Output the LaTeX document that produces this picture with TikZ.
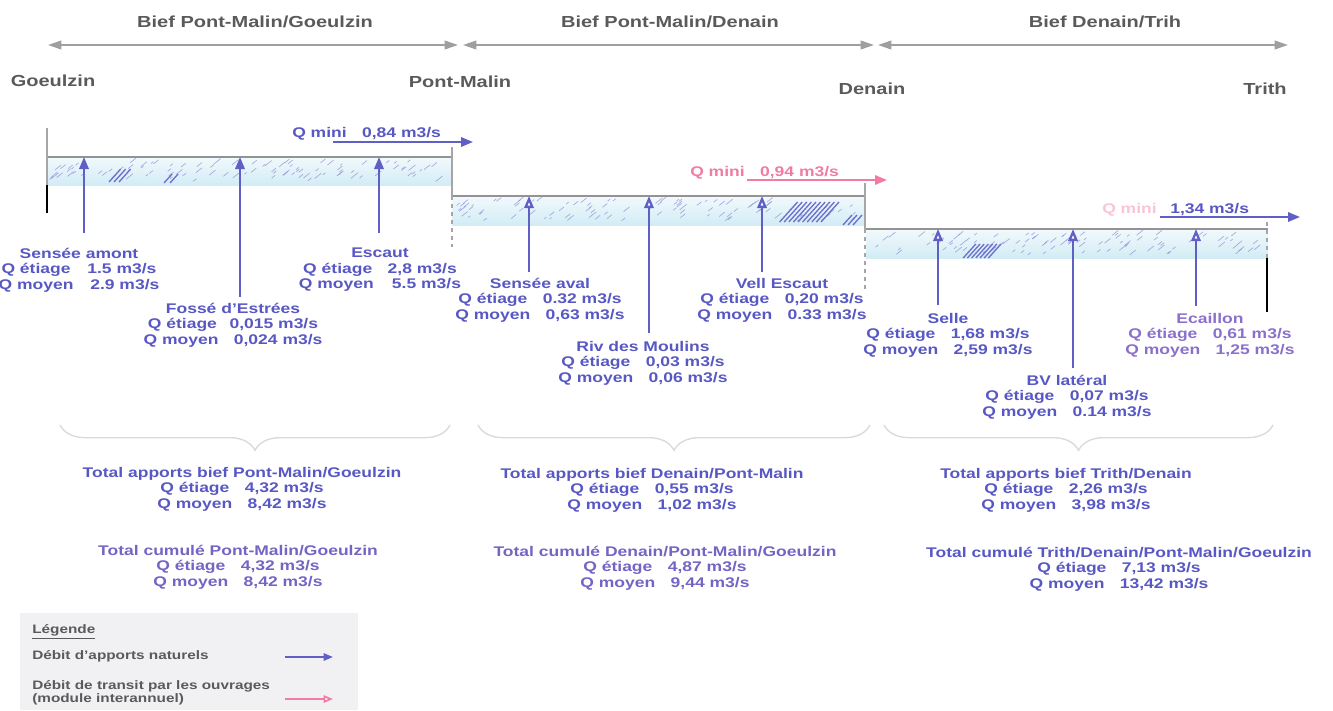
\documentclass[tikz,border=0pt]{standalone}
\usepackage{fontspec}
\setmainfont{Liberation Sans}[FakeStretch=1.25]
\usetikzlibrary{arrows.meta,decorations.pathreplacing}
\definecolor{flow}{HTML}{5F5FC6}
\definecolor{flowtxt}{HTML}{5858C4}
\definecolor{purp}{HTML}{7464C4}
\definecolor{ecail}{HTML}{8A70CC}
\definecolor{pinkq}{HTML}{F07CA6}
\definecolor{grayt}{HTML}{5A5A5A}
\definecolor{water}{HTML}{D2ECF5}
\definecolor{legbg}{HTML}{F1F1F4}
\begin{document}
\begin{tikzpicture}[x=0.75pt,y=-0.75pt,
  lab/.style={font=\fontsize{10.5}{11.6}\selectfont\bfseries, text=flowtxt, align=center, inner sep=0pt},
  place/.style={font=\fontsize{12}{14}\selectfont\bfseries, text=grayt, inner sep=0pt},
  leg/.style={font=\fontsize{9.2}{9.9}\selectfont\bfseries, text=grayt, align=left, inner sep=0pt},
  biefarrow/.style={draw=gray!75, line width=1.3pt, {Triangle[length=10pt,width=6.5pt]}-{Triangle[length=10pt,width=6.5pt]}},
  inflow/.style={draw=flow, line width=1.7pt, -{Triangle[length=9pt,width=7pt]}},
  inflowopen/.style={draw=flow, line width=1.7pt, -{Triangle[open,length=9pt,width=7pt,fill=white]}},
  qmini/.style={line width=1.7pt, -{Triangle[length=9pt,width=7pt]}},
  level/.style={draw=gray!85, line width=1.5pt},
  wall/.style={draw=gray!70, line width=1.2pt},
  hatch/.style={draw=flow!70, line width=0.5pt, opacity=0.75},
  darkhatch/.style={draw=flow!90, line width=1pt},
  brc/.style={draw=gray!30, line width=1pt, decorate, decoration={brace, amplitude=19pt}},
]
\useasboundingbox (0,0) rectangle (1333,710);

% ---------- top: biefs ----------
\coordinate (b1l) at (48,45);  \coordinate (b1r) at (458,45);
\coordinate (b2l) at (463,45); \coordinate (b2r) at (874,45);
\coordinate (b3l) at (878,45); \coordinate (b3r) at (1288,45);
\draw[biefarrow] (b1l) -- (b1r);
\draw[biefarrow] (b2l) -- (b2r);
\draw[biefarrow] (b3l) -- (b3r);
\node[place] (bief1) at (255,22) {Bief Pont-Malin/Goeulzin};
\node[place] (bief2) at (670,22) {Bief Pont-Malin/Denain};
\node[place] (bief3) at (1105,22) {Bief Denain/Trih};
\node[place] (goe) at (53,81) {Goeulzin};
\node[place] (pm) at (460,82) {Pont-Malin};
\node[place] (den) at (872,89) {Denain};
\node[place] (tri) at (1265,89) {Trith};

% ---------- water bands ----------
\shade[top color=water!30, bottom color=water] (47,157) rectangle (452,185);
\shade[top color=water!30, bottom color=water] (452,196) rectangle (865,225);
\shade[top color=water!30, bottom color=water] (866,229) rectangle (1268,258);

\pgfmathsetseed{11}
\foreach \xa/\xb/\ya in {49/448/158, 454/862/197, 868/1264/231}{
  \foreach \i in {1,...,95}{
    \pgfmathsetmacro{\hx}{\xa+rnd*(\xb-\xa-6)}
    \pgfmathsetmacro{\hy}{\ya+4+rnd*20}
    \pgfmathsetmacro{\hl}{2+rnd*5}
    \draw[hatch] (\hx,\hy) -- ++(\hl,-0.8*\hl);
  }
}
% denser hatch clusters: x0 / bottom y / stroke height / count / spacing
\foreach \cx/\cy/\ch/\cn/\cs in {104/182/13/3/5, 158/183/9/2/6, 775/222/20/10/4.6, 838/225/10/3/5, 959/258/14/7/4.2}{
  \foreach \k in {1,...,\cn}{
    \draw[darkhatch] (\cx+\k*\cs,\cy) -- ++(\ch*0.9,-\ch);
  }
}

% ---------- levels and walls ----------
\draw[level] (47,157) -- (452,157);
\draw[level] (452,196) -- (865,196);
\draw[level] (866,229) -- (1268,229);
\draw[wall] (47,128) -- (47,185);
\draw[black, line width=1.4pt] (47,185) -- (47,213);
\draw[wall] (452,147) -- (452,196);
\draw[wall, dashed] (452,196) -- (452,247);
\draw[wall] (865,183) -- (865,229);
\draw[wall, dashed] (865,229) -- (865,292);
\draw[wall, dashed] (1267,222) -- (1267,258);
\draw[black, line width=1.4pt] (1267,258) -- (1267,312);

% ---------- Q mini ----------
\coordinate (q1a) at (333,142); \coordinate (q1b) at (473,142);
\draw[qmini, draw=flow] (q1a) -- (q1b);
\node[lab, anchor=base west] (q1) at (292,137) {Q mini\hspace{1.1em}0,84 m3/s};
\coordinate (q2a) at (747,180); \coordinate (q2b) at (887,180);
\draw[qmini, draw=pinkq] (q2a) -- (q2b);
\node[lab, text=pinkq, anchor=base west] (q2) at (690,176) {Q mini\hspace{1.1em}0,94 m3/s};
\coordinate (q3a) at (1160,217); \coordinate (q3b) at (1300,217);
\draw[qmini, draw=flow] (q3a) -- (q3b);
\node[lab, text=pinkq!45, anchor=base west] (q3m) at (1102,213) {Q mini};
\node[lab, anchor=base west] (q3) at (1170,213) {1,34 m3/s};

% ---------- inflows reach 1 ----------
\coordinate (sa-b) at (84,233);  \coordinate (sa-t) at (84,157);
\coordinate (fe-b) at (240,297); \coordinate (fe-t) at (240,157);
\coordinate (es-b) at (379,233); \coordinate (es-t) at (379,157);
\draw[inflow] (sa-b) -- (sa-t);
\draw[inflow] (fe-b) -- (fe-t);
\draw[inflow] (es-b) -- (es-t);
\node[lab] (sa) at (79,270) {Sensée amont\\Q étiage\hspace{1.2em}1.5 m3/s\\Q moyen\hspace{1.2em}2.9 m3/s};
\node[lab] (fe) at (233,325) {Fossé d'Estrées\\Q étiage\hspace{0.9em}0,015 m3/s\\Q moyen\hspace{1.1em}0,024 m3/s};
\node[lab] (es) at (380,270) {Escaut\\Q étiage\hspace{1.1em}2,8 m3/s\\Q moyen\hspace{1.3em}5.5 m3/s};

% ---------- inflows reach 2 ----------
\coordinate (sv-b) at (529,272); \coordinate (sv-t) at (529,196);
\coordinate (rm-b) at (649,333); \coordinate (rm-t) at (649,196);
\coordinate (ve-b) at (762,272); \coordinate (ve-t) at (762,196);
\draw[inflowopen] (sv-b) -- (sv-t);
\draw[inflowopen] (rm-b) -- (rm-t);
\draw[inflowopen] (ve-b) -- (ve-t);
\node[lab] (sv) at (540,300) {Sensée aval\\Q étiage\hspace{1.1em}0.32 m3/s\\Q moyen\hspace{1.1em}0,63 m3/s};
\node[lab] (rm) at (643,363) {Riv des Moulins\\Q étiage\hspace{1.1em}0,03 m3/s\\Q moyen\hspace{1.1em}0,06 m3/s};
\node[lab] (ve) at (782,300) {Vell Escaut\\Q étiage\hspace{1.1em}0,20 m3/s\\Q moyen\hspace{1.1em}0.33 m3/s};

% ---------- inflows reach 3 ----------
\coordinate (se-b) at (938,305);  \coordinate (se-t) at (938,229);
\coordinate (bv-b) at (1073,368); \coordinate (bv-t) at (1073,229);
\coordinate (ec-b) at (1196,306); \coordinate (ec-t) at (1196,229);
\draw[inflowopen] (se-b) -- (se-t);
\draw[inflowopen] (bv-b) -- (bv-t);
\draw[inflowopen] (ec-b) -- (ec-t);
\node[lab] (se) at (948,335) {Selle\\Q étiage\hspace{1.1em}1,68 m3/s\\Q moyen\hspace{1.1em}2,59 m3/s};
\node[lab] (bv) at (1067,397) {BV latéral\\Q étiage\hspace{1.1em}0,07 m3/s\\Q moyen\hspace{1.1em}0.14 m3/s};
\node[lab, text=ecail] (ec) at (1210,335) {Ecaillon\\Q étiage\hspace{1.1em}0,61 m3/s\\Q moyen\hspace{1.1em}1,25 m3/s};

% ---------- braces ----------
\coordinate (br1r) at (450,425); \coordinate (br1l) at (60,425);
\coordinate (br2r) at (870,425); \coordinate (br2l) at (478,425);
\coordinate (br3r) at (1273,425); \coordinate (br3l) at (884,425);
\draw[brc] (br1r) -- (br1l);
\draw[brc] (br2r) -- (br2l);
\draw[brc] (br3r) -- (br3l);

% ---------- totals ----------
\node[lab] (ta1) at (242,489) {Total apports bief Pont-Malin/Goeulzin\\Q étiage\hspace{1.1em}4,32 m3/s\\Q moyen\hspace{1.1em}8,42 m3/s};
\node[lab, text=purp] (tc1) at (238,567) {Total cumulé Pont-Malin/Goeulzin\\Q étiage\hspace{1.1em}4,32 m3/s\\Q moyen\hspace{1.1em}8,42 m3/s};
\node[lab] (ta2) at (652,490) {Total apports bief Denain/Pont-Malin\\Q étiage\hspace{1.1em}0,55 m3/s\\Q moyen\hspace{1.1em}1,02 m3/s};
\node[lab, text=purp] (tc2) at (665,568) {Total cumulé Denain/Pont-Malin/Goeulzin\\Q étiage\hspace{1.1em}4,87 m3/s\\Q moyen\hspace{1.1em}9,44 m3/s};
\node[lab] (ta3) at (1066,490) {Total apports bief Trith/Denain\\Q étiage\hspace{1.1em}2,26 m3/s\\Q moyen\hspace{1.1em}3,98 m3/s};
\node[lab] (tc3) at (1119,569) {Total cumulé Trith/Denain/Pont-Malin/Goeulzin\\Q étiage\hspace{1.1em}7,13 m3/s\\Q moyen\hspace{1.1em}13,42 m3/s};

% ---------- legend ----------
\fill[legbg] (20,613) rectangle (358,710);
\node[leg, anchor=west] (lg) at (32,632) {\underline{Légende}};
\node[leg, anchor=west] (l1) at (32,656) {Débit d'apports naturels};
\node[leg, anchor=west] (l2) at (32,693) {Débit de transit par les ouvrages\\(module interannuel)};
\coordinate (la1) at (285,657); \coordinate (lb1) at (333,657);
\draw[draw=flow, line width=1.3pt, -{Triangle[length=7pt,width=5.5pt]}] (la1) -- (lb1);
\coordinate (la2) at (285,699); \coordinate (lb2) at (333,699);
\draw[draw=pinkq, line width=1.3pt, -{Triangle[open,length=7pt,width=5.5pt,fill=white]}] (la2) -- (lb2);
\end{tikzpicture}
\end{document}
